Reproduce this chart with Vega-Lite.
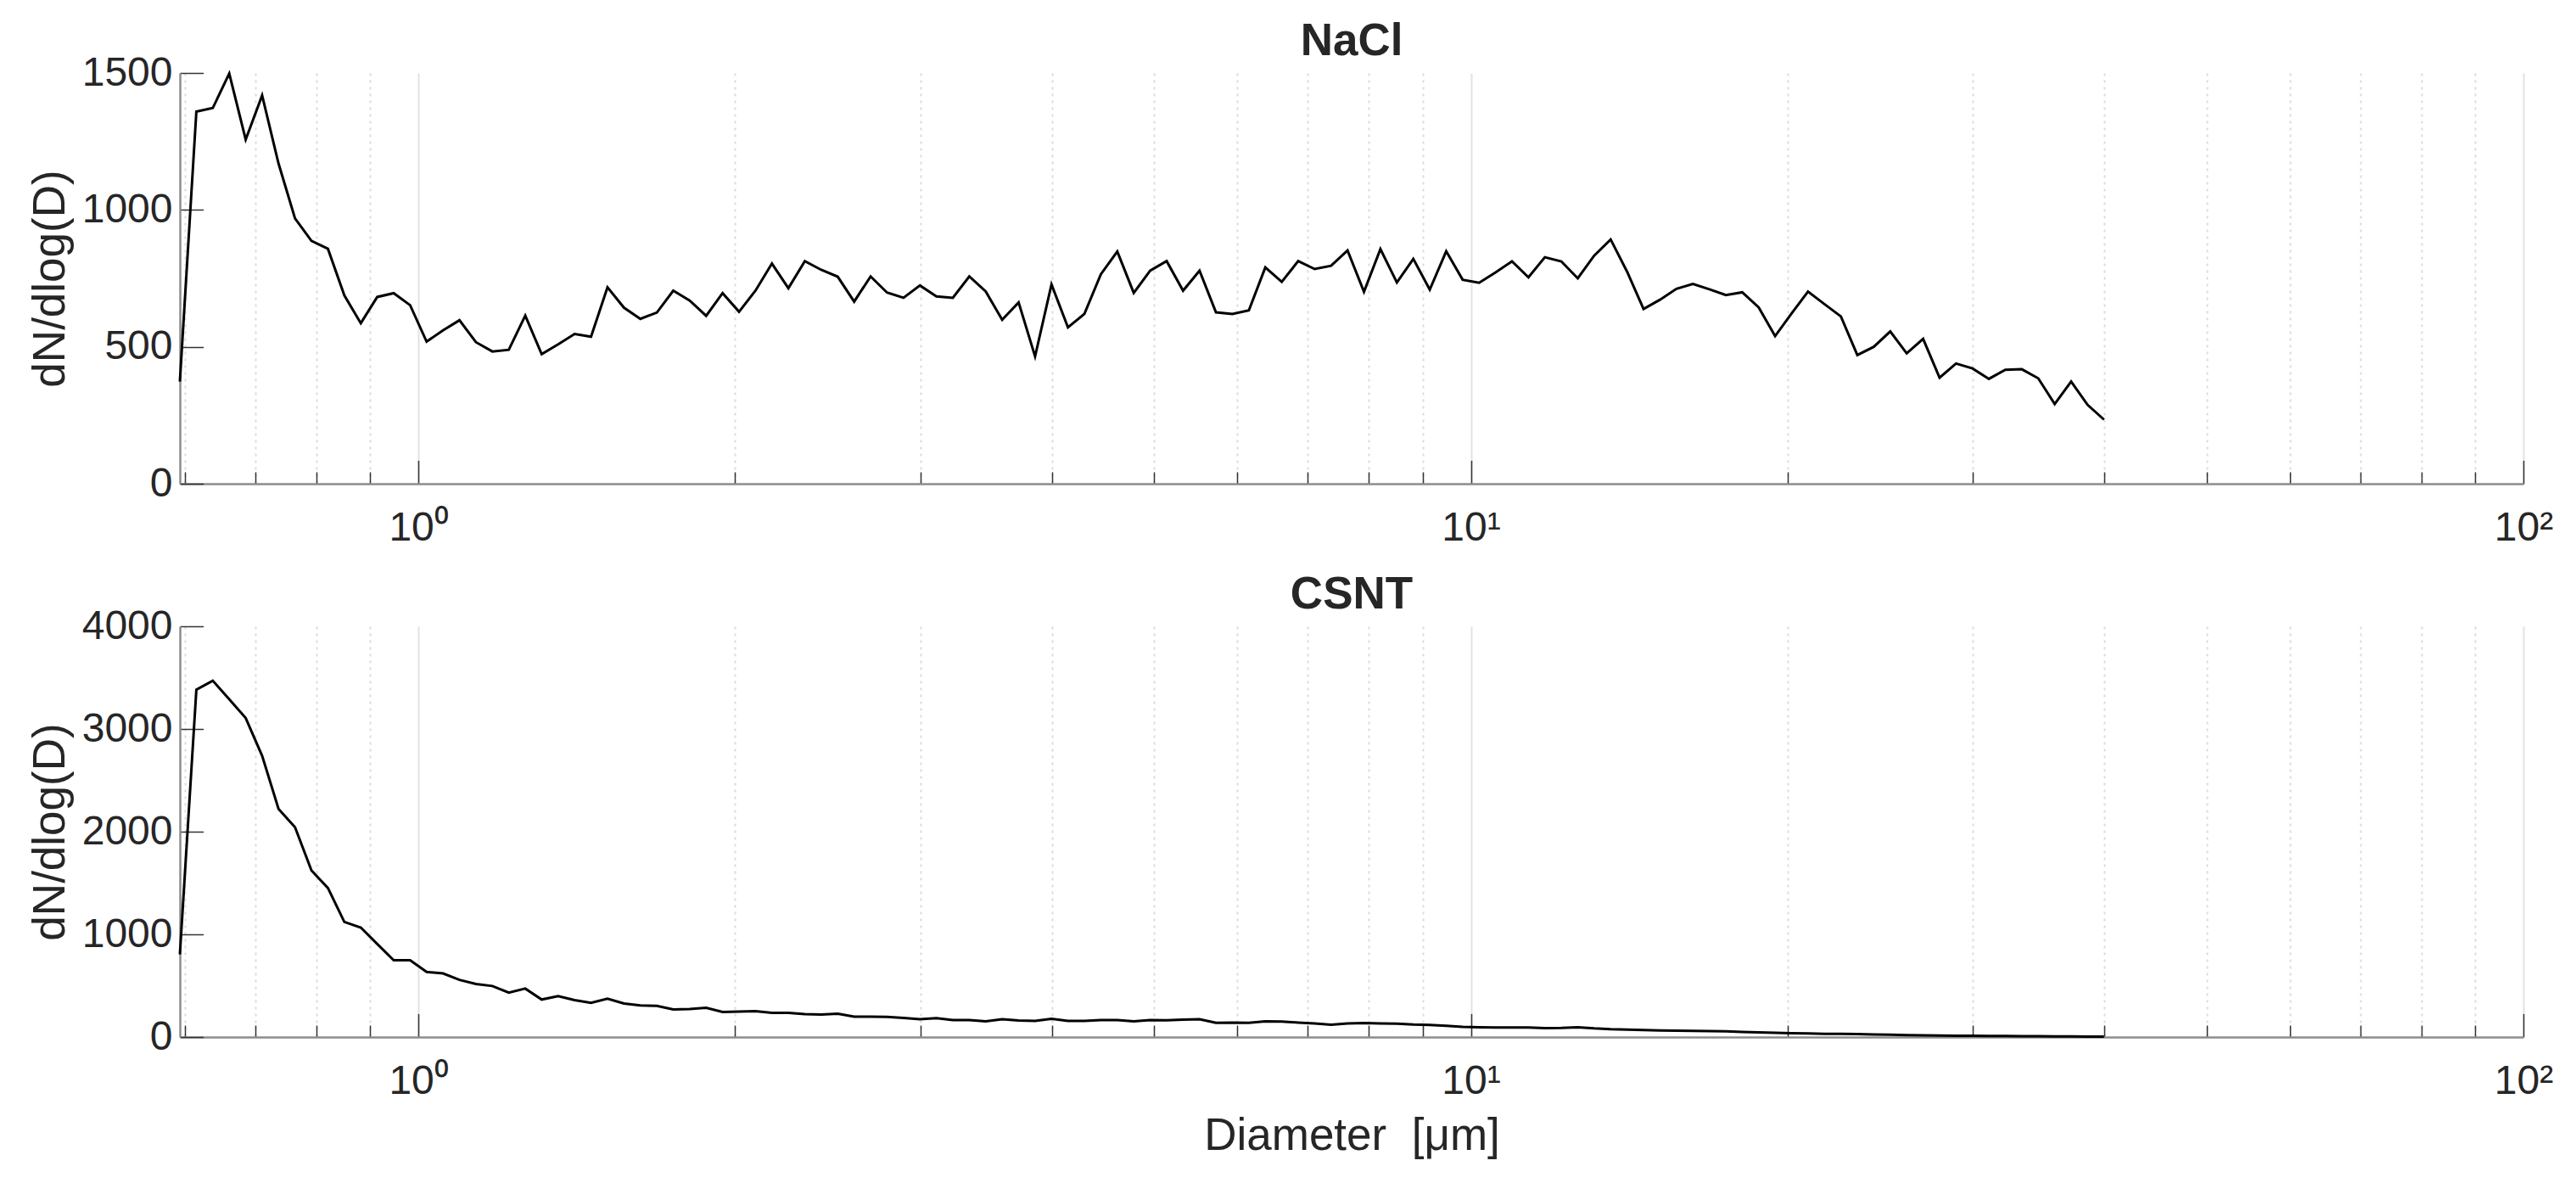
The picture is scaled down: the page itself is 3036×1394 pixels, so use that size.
{
  "$schema": "https://vega.github.io/schema/vega-lite/v6.json",
  "background": "white",
  "padding": {"left": 33, "top": 23, "right": 40, "bottom": 20},
  "bounds": "flush",
  "spacing": 168,
  "datasets": {
    "nacl": [
      {"D": 0.5935, "N": 373}, {"D": 0.6153, "N": 1359}, {"D": 0.6378, "N": 1372}, {"D": 0.6612, "N": 1498},
      {"D": 0.6854, "N": 1257}, {"D": 0.7105, "N": 1418}, {"D": 0.7365, "N": 1169}, {"D": 0.7635, "N": 969},
      {"D": 0.7915, "N": 887}, {"D": 0.8205, "N": 858}, {"D": 0.8505, "N": 688}, {"D": 0.8817, "N": 586},
      {"D": 0.914, "N": 682}, {"D": 0.9475, "N": 696}, {"D": 0.9822, "N": 652}, {"D": 1.0182, "N": 519},
      {"D": 1.0555, "N": 560}, {"D": 1.0941, "N": 597}, {"D": 1.1342, "N": 517}, {"D": 1.1757, "N": 483},
      {"D": 1.2188, "N": 489}, {"D": 1.2635, "N": 614}, {"D": 1.3097, "N": 473}, {"D": 1.3577, "N": 509},
      {"D": 1.4075, "N": 547}, {"D": 1.459, "N": 537}, {"D": 1.5125, "N": 717}, {"D": 1.5679, "N": 643},
      {"D": 1.6253, "N": 602}, {"D": 1.6849, "N": 625}, {"D": 1.7466, "N": 705}, {"D": 1.8106, "N": 669},
      {"D": 1.8769, "N": 613}, {"D": 1.9456, "N": 696}, {"D": 2.0169, "N": 628}, {"D": 2.0908, "N": 705},
      {"D": 2.1674, "N": 804}, {"D": 2.2468, "N": 714}, {"D": 2.3291, "N": 813}, {"D": 2.4144, "N": 781},
      {"D": 2.5029, "N": 756}, {"D": 2.5946, "N": 665}, {"D": 2.6896, "N": 757}, {"D": 2.7881, "N": 698},
      {"D": 2.8903, "N": 679}, {"D": 2.9961, "N": 724}, {"D": 3.1059, "N": 684}, {"D": 3.2197, "N": 679},
      {"D": 3.3376, "N": 757}, {"D": 3.4599, "N": 702}, {"D": 3.5866, "N": 599}, {"D": 3.718, "N": 662},
      {"D": 3.8542, "N": 465}, {"D": 3.9954, "N": 728}, {"D": 4.1418, "N": 571}, {"D": 4.2935, "N": 620},
      {"D": 4.4508, "N": 765}, {"D": 4.6138, "N": 848}, {"D": 4.7829, "N": 697}, {"D": 4.9581, "N": 778},
      {"D": 5.1397, "N": 813}, {"D": 5.328, "N": 705}, {"D": 5.5232, "N": 778}, {"D": 5.7255, "N": 626},
      {"D": 5.9352, "N": 620}, {"D": 6.1527, "N": 633}, {"D": 6.378, "N": 790}, {"D": 6.6117, "N": 737},
      {"D": 6.8539, "N": 813}, {"D": 7.105, "N": 784}, {"D": 7.3652, "N": 796}, {"D": 7.6351, "N": 852},
      {"D": 7.9148, "N": 701}, {"D": 8.2047, "N": 857}, {"D": 8.5053, "N": 735}, {"D": 8.8168, "N": 821},
      {"D": 9.1398, "N": 709}, {"D": 9.4746, "N": 849}, {"D": 9.8217, "N": 745}, {"D": 10.182, "N": 734},
      {"D": 10.555, "N": 772}, {"D": 10.941, "N": 812}, {"D": 11.342, "N": 754}, {"D": 11.757, "N": 827},
      {"D": 12.188, "N": 812}, {"D": 12.635, "N": 750}, {"D": 13.097, "N": 833}, {"D": 13.577, "N": 892},
      {"D": 14.075, "N": 774}, {"D": 14.59, "N": 638}, {"D": 15.125, "N": 672}, {"D": 15.679, "N": 712},
      {"D": 16.253, "N": 730}, {"D": 16.849, "N": 710}, {"D": 17.466, "N": 689}, {"D": 18.106, "N": 699},
      {"D": 18.769, "N": 644}, {"D": 19.456, "N": 539}, {"D": 20.169, "N": 622}, {"D": 20.908, "N": 702},
      {"D": 21.674, "N": 656}, {"D": 22.468, "N": 611}, {"D": 23.291, "N": 470}, {"D": 24.144, "N": 500},
      {"D": 25.029, "N": 556}, {"D": 25.946, "N": 476}, {"D": 26.896, "N": 529}, {"D": 27.881, "N": 387},
      {"D": 28.903, "N": 439}, {"D": 29.961, "N": 421}, {"D": 31.059, "N": 383}, {"D": 32.197, "N": 416},
      {"D": 33.376, "N": 418}, {"D": 34.599, "N": 385}, {"D": 35.866, "N": 291}, {"D": 37.18, "N": 373},
      {"D": 38.542, "N": 288}, {"D": 39.954, "N": 234}
    ],
    "csnt": [
      {"D": 0.5935, "N": 805}, {"D": 0.6153, "N": 3382}, {"D": 0.6378, "N": 3470}, {"D": 0.6612, "N": 3289},
      {"D": 0.6854, "N": 3107}, {"D": 0.7105, "N": 2739}, {"D": 0.7365, "N": 2221}, {"D": 0.7635, "N": 2043},
      {"D": 0.7915, "N": 1622}, {"D": 0.8205, "N": 1451}, {"D": 0.8505, "N": 1121}, {"D": 0.8817, "N": 1066},
      {"D": 0.914, "N": 906}, {"D": 0.9475, "N": 747}, {"D": 0.9822, "N": 747}, {"D": 1.0182, "N": 634},
      {"D": 1.0555, "N": 620}, {"D": 1.0941, "N": 557}, {"D": 1.1342, "N": 516}, {"D": 1.1757, "N": 497},
      {"D": 1.2188, "N": 433}, {"D": 1.2635, "N": 472}, {"D": 1.3097, "N": 365}, {"D": 1.3577, "N": 398},
      {"D": 1.4075, "N": 359}, {"D": 1.459, "N": 332}, {"D": 1.5125, "N": 373}, {"D": 1.5679, "N": 326},
      {"D": 1.6253, "N": 307}, {"D": 1.6849, "N": 304}, {"D": 1.7466, "N": 268}, {"D": 1.8106, "N": 272},
      {"D": 1.8769, "N": 285}, {"D": 1.9456, "N": 244}, {"D": 2.0169, "N": 248}, {"D": 2.0908, "N": 252},
      {"D": 2.1674, "N": 235}, {"D": 2.2468, "N": 235}, {"D": 2.3291, "N": 224}, {"D": 2.4144, "N": 219},
      {"D": 2.5029, "N": 227}, {"D": 2.5946, "N": 199}, {"D": 2.6896, "N": 199}, {"D": 2.7881, "N": 197},
      {"D": 2.8903, "N": 186}, {"D": 2.9961, "N": 174}, {"D": 3.1059, "N": 183}, {"D": 3.2197, "N": 166},
      {"D": 3.3376, "N": 166}, {"D": 3.4599, "N": 152}, {"D": 3.5866, "N": 174}, {"D": 3.718, "N": 161},
      {"D": 3.8542, "N": 158}, {"D": 3.9954, "N": 177}, {"D": 4.1418, "N": 158}, {"D": 4.2935, "N": 158},
      {"D": 4.4508, "N": 166}, {"D": 4.6138, "N": 166}, {"D": 4.7829, "N": 152}, {"D": 4.9581, "N": 166},
      {"D": 5.1397, "N": 163}, {"D": 5.328, "N": 169}, {"D": 5.5232, "N": 174}, {"D": 5.7255, "N": 138},
      {"D": 5.9352, "N": 141}, {"D": 6.1527, "N": 138}, {"D": 6.378, "N": 152}, {"D": 6.6117, "N": 150},
      {"D": 6.8539, "N": 141}, {"D": 7.105, "N": 133}, {"D": 7.3652, "N": 119}, {"D": 7.6351, "N": 133},
      {"D": 7.9148, "N": 136}, {"D": 8.2047, "N": 133}, {"D": 8.5053, "N": 130}, {"D": 8.8168, "N": 122},
      {"D": 9.1398, "N": 118}, {"D": 9.4746, "N": 110}, {"D": 9.8217, "N": 100}, {"D": 10.182, "N": 96},
      {"D": 10.555, "N": 94}, {"D": 10.941, "N": 93}, {"D": 11.342, "N": 92}, {"D": 11.757, "N": 86},
      {"D": 12.188, "N": 88}, {"D": 12.635, "N": 96}, {"D": 13.097, "N": 84}, {"D": 13.577, "N": 76},
      {"D": 14.075, "N": 72}, {"D": 14.59, "N": 68}, {"D": 15.125, "N": 64}, {"D": 15.679, "N": 62},
      {"D": 16.253, "N": 60}, {"D": 16.849, "N": 58}, {"D": 17.466, "N": 55}, {"D": 18.106, "N": 50},
      {"D": 18.769, "N": 46}, {"D": 19.456, "N": 42}, {"D": 20.169, "N": 38}, {"D": 20.908, "N": 36},
      {"D": 21.674, "N": 32}, {"D": 22.468, "N": 30}, {"D": 23.291, "N": 28}, {"D": 24.144, "N": 25},
      {"D": 25.029, "N": 22}, {"D": 25.946, "N": 18}, {"D": 26.896, "N": 16}, {"D": 27.881, "N": 14},
      {"D": 28.903, "N": 13}, {"D": 29.961, "N": 12}, {"D": 31.059, "N": 11}, {"D": 32.197, "N": 10},
      {"D": 33.376, "N": 9}, {"D": 34.599, "N": 8}, {"D": 35.866, "N": 7}, {"D": 37.18, "N": 6},
      {"D": 38.542, "N": 5}, {"D": 39.954, "N": 4}
    ]
  },
  "vconcat": [
    {
      "title": "NaCl",
      "width": 2762,
      "height": 484,
      "data": {"name": "nacl"},
      "mark": {"type": "line", "color": "#000000", "strokeWidth": 3},
      "encoding": {
        "x": {
          "field": "D",
          "type": "quantitative",
          "scale": {"type": "log", "domain": [0.5935, 100], "nice": false},
          "axis": {
            "title": null,
            "values": [0.6, 0.7, 0.8, 0.9, 1, 2, 3, 4, 5, 6, 7, 8, 9, 10, 20, 30, 40, 50, 60, 70, 80, 90, 100],
            "labelExpr": "datum.value == 1 ? '10\u2070' : datum.value == 10 ? '10\u00b9' : datum.value == 100 ? '10\u00b2' : ''",
            "labelOverlap": false,
            "labelFlush": false,
            "labelPadding": 56,
            "grid": true,
            "gridWidth": 2,
            "gridColor": {"condition": {"test": "datum.value == 1 || datum.value == 10 || datum.value == 100", "value": "#e2e2e2"}, "value": "#dcdcdc"},
            "gridDash": {"condition": {"test": "datum.value == 1 || datum.value == 10 || datum.value == 100", "value": []}, "value": [3, 5]},
            "tickSize": {"condition": {"test": "datum.value == 1 || datum.value == 10 || datum.value == 100", "value": -27.6}, "value": -14}
          }
        },
        "y": {
          "field": "N",
          "type": "quantitative",
          "scale": {"domain": [0, 1500], "nice": false},
          "axis": {"title": "dN/dlog(D)", "format": "d", "values": [0, 500, 1000, 1500], "grid": false, "tickSize": -27.6, "labelPadding": 36.6, "titlePadding": 10}
        }
      }
    },
    {
      "title": "CSNT",
      "width": 2762,
      "height": 484,
      "data": {"name": "csnt"},
      "mark": {"type": "line", "color": "#000000", "strokeWidth": 3},
      "encoding": {
        "x": {
          "field": "D",
          "type": "quantitative",
          "scale": {"type": "log", "domain": [0.5935, 100], "nice": false},
          "axis": {
            "title": "Diameter\u00a0 [\u03bcm]",
            "titlePadding": 0,
            "values": [0.6, 0.7, 0.8, 0.9, 1, 2, 3, 4, 5, 6, 7, 8, 9, 10, 20, 30, 40, 50, 60, 70, 80, 90, 100],
            "labelExpr": "datum.value == 1 ? '10\u2070' : datum.value == 10 ? '10\u00b9' : datum.value == 100 ? '10\u00b2' : ''",
            "labelOverlap": false,
            "labelFlush": false,
            "labelPadding": 56,
            "grid": true,
            "gridWidth": 2,
            "gridColor": {"condition": {"test": "datum.value == 1 || datum.value == 10 || datum.value == 100", "value": "#e2e2e2"}, "value": "#dcdcdc"},
            "gridDash": {"condition": {"test": "datum.value == 1 || datum.value == 10 || datum.value == 100", "value": []}, "value": [3, 5]},
            "tickSize": {"condition": {"test": "datum.value == 1 || datum.value == 10 || datum.value == 100", "value": -27.6}, "value": -14}
          }
        },
        "y": {
          "field": "N",
          "type": "quantitative",
          "scale": {"domain": [0, 4000], "nice": false},
          "axis": {"title": "dN/dlog(D)", "format": "d", "values": [0, 1000, 2000, 3000, 4000], "grid": false, "tickSize": -27.6, "labelPadding": 36.6, "titlePadding": 10}
        }
      }
    }
  ],
  "config": {
    "font": "Liberation Sans",
    "view": {"stroke": null},
    "axis": {
      "domainColor": "#8c8c8c",
      "domainWidth": 2.5,
      "tickColor": "#333333",
      "tickWidth": 1.5,
      "labelColor": "#262626",
      "labelFont": "Liberation Sans",
      "labelFontSize": 48,
      "titleColor": "#262626",
      "titleFont": "Liberation Sans",
      "titleFontSize": 53,
      "titleFontWeight": "normal"
    },
    "title": {
      "font": "Liberation Sans",
      "fontSize": 53,
      "fontWeight": "bold",
      "color": "#262626",
      "anchor": "middle",
      "baseline": "alphabetic",
      "offset": -14
    }
  }
}
